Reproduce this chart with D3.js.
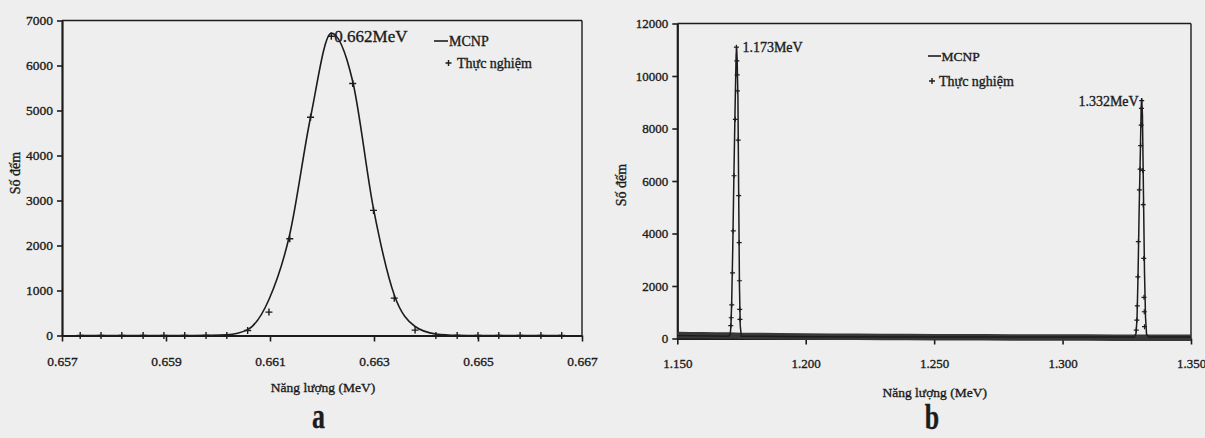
<!DOCTYPE html>
<html>
<head>
<meta charset="utf-8">
<script src="https://cdn.jsdelivr.net/npm/d3@7"></script>
<style>
  html, body { margin: 0; padding: 0; background: #eeeeee; }
  svg { display: block; }
  text { font-family: "Liberation Serif", "Times New Roman", serif; fill: #1c1c1c; stroke: #1c1c1c; stroke-width: 0.35px; }
</style>
</head>
<body>
<svg id="chart" width="1205" height="438"></svg>
<script>
// ---------- Chart a : 0.662 MeV peak ----------
const energyA = [0.65735, 0.65775, 0.65815, 0.65856, 0.65896, 0.65936, 0.65977, 0.66017,
                 0.66057, 0.66098, 0.66138, 0.66178, 0.66218, 0.66259, 0.66299, 0.66339,
                 0.66379, 0.66419, 0.66460, 0.66500, 0.66540, 0.66581, 0.66621, 0.66661];
const mcnpA = [0, 0, 0, 0, 0, 0, 5, 15, 130, 800, 2250, 4850, 6720, 5650, 2820, 900, 200, 35, 5, 0, 0, 0, 0, 0];
const expA  = [0, 0, 0, 0, 0, 0, 0, 0, 110, 520, 2150, 4850, 6650, 5600, 2780, 830, 120, 0, 0, 0, 0, 0, 0, 0];
const xTicksA = [0.657, 0.659, 0.661, 0.663, 0.665, 0.667];
const yTicksA = [0, 1000, 2000, 3000, 4000, 5000, 6000, 7000];
const peakLabelA = { energy: 0.66218, count: 6650, text: "0.662MeV" };

// ---------- Chart b : 1.173 / 1.332 MeV peaks ----------
const mcnpBEnergy = [1.1500, 1.1600, 1.1700, 1.1706, 1.1709, 1.1712, 1.1716, 1.1720, 1.1725, 1.1729, 1.1731,
                     1.1733, 1.1736, 1.1739, 1.1742, 1.1745, 1.1749, 1.2000, 1.2500, 1.3000, 1.3280,
                     1.3286, 1.3290, 1.3294, 1.3298, 1.3303, 1.3306, 1.3308, 1.3311, 1.3315, 1.3319,
                     1.3323, 1.3327, 1.3335, 1.3500];
const mcnpBCounts = [110, 100, 90, 150, 500, 1500, 3500, 6000, 8800, 10800, 11100,
                     10600, 9200, 5500, 2000, 500, 90, 70, 60, 55, 55,
                     200, 800, 2500, 4800, 7200, 8800, 9150, 8500, 5500, 2500,
                     800, 150, 55, 55];
const expBEnergy = [1.1708, 1.1710, 1.1712, 1.1715, 1.1718, 1.1721, 1.1726, 1.1730,
                    1.1732, 1.1733, 1.1734, 1.1737, 1.1739, 1.1741, 1.1742, 1.1743, 1.1744,
                    1.3287, 1.3289, 1.3291, 1.3293, 1.3295, 1.3299, 1.3302, 1.3304, 1.3306, 1.3307, 1.3308,
                    1.3312, 1.3314, 1.3316, 1.3317, 1.3318, 1.3319];
const expBCounts = [490, 790, 1280, 2500, 4100, 6200, 8350, 11100,
                    10580, 10040, 9430, 7560, 5440, 3650, 2200, 1110, 730,
                    320, 700, 1240, 2350, 3690, 5660, 6450, 7350, 8130, 8770, 9060,
                    6400, 5100, 3050, 1570, 1020, 450];
// dense background of experimental points (seen as a dark band along the baseline)
const bgBEnergy = [1.150, 1.155, 1.160, 1.165, 1.170, 1.175, 1.180, 1.190, 1.200, 1.210, 1.220,
                   1.230, 1.240, 1.250, 1.260, 1.270, 1.280, 1.290, 1.300, 1.310, 1.320, 1.328,
                   1.334, 1.340, 1.345, 1.350];
const bgBCounts = [130, 120, 125, 115, 110, 100, 95, 90, 80, 70, 65,
                   60, 55, 50, 45, 45, 40, 40, 35, 35, 30, 30,
                   30, 30, 30, 30];
const xTicksB = [1.150, 1.200, 1.250, 1.300, 1.350];
const yTicksB = [0, 2000, 4000, 6000, 8000, 10000, 12000];
const peakLabelsB = [
  { energy: 1.1730, count: 11100, text: "1.173MeV", side: "right" },
  { energy: 1.3308, count: 9060, text: "1.332MeV", side: "left" }
];

const svg = d3.select("#chart");
const ink = "#1c1c1c";

function drawFrame(g, x, y, xTicks, yTicks, xFmt, opts) {
  const [x0, x1] = x.range();
  const [yb, yt] = y.range();
  g.append("line").attr("x1", x0).attr("x2", x1).attr("y1", yt).attr("y2", yt)
    .attr("stroke", ink).attr("stroke-width", 1.4);
  g.append("line").attr("x1", x1).attr("x2", x1).attr("y1", yt).attr("y2", yb)
    .attr("stroke", ink).attr("stroke-width", 1.4);

  const ya = d3.axisLeft(y).tickValues(yTicks).tickSize(5).tickPadding(4).tickSizeOuter(0)
    .tickFormat(d3.format("d"));
  const gy = g.append("g").attr("transform", `translate(${x0},0)`).call(ya);
  gy.select(".domain").attr("stroke", ink).attr("stroke-width", 2.2);
  gy.selectAll(".tick line").attr("stroke", ink).attr("stroke-width", 1.6);
  gy.selectAll(".tick text").attr("font-size", opts.tickFont).attr("fill", ink)
    .style("font-family", '"Liberation Serif", serif');

  const xa = d3.axisBottom(x).tickValues(xTicks).tickSize(6).tickPadding(opts.xPad).tickSizeOuter(0)
    .tickFormat(xFmt);
  const gx = g.append("g").attr("transform", `translate(0,${yb})`).call(xa);
  gx.select(".domain").attr("stroke", ink).attr("stroke-width", 2.2);
  gx.selectAll(".tick line").attr("stroke", ink).attr("stroke-width", 1.6);
  gx.selectAll(".tick text").attr("font-size", opts.tickFont).attr("fill", ink)
    .style("font-family", '"Liberation Serif", serif');
}

function plus(g, px, py, s, w) {
  g.append("path").attr("d", `M${px - s},${py}H${px + s}M${px},${py - s}V${py + s}`)
    .attr("stroke", ink).attr("stroke-width", w).attr("fill", "none");
}

// ---------------- Chart a ----------------
{
  const g = svg.append("g");
  const x = d3.scaleLinear().domain([0.657, 0.667]).range([62, 582]);
  const y = d3.scaleLinear().domain([0, 7000]).range([335.5, 20.5]);
  drawFrame(g, x, y, xTicksA, yTicksA, d3.format(".3f"), { tickFont: "13.5px", xPad: 15 });

  const line = d3.line().x(d => x(d[0])).y(d => y(d[1])).curve(d3.curveMonotoneX);
  g.append("path").datum(energyA.map((e, i) => [e, mcnpA[i]]))
    .attr("d", line).attr("fill", "none").attr("stroke", ink).attr("stroke-width", 1.6);

  energyA.forEach((e, i) => plus(g, x(e), y(expA[i]), 3.5, 1.4));

  g.append("text").attr("x", x(peakLabelA.energy) + 3).attr("y", y(peakLabelA.count) + 6)
    .attr("font-size", "17px").text(peakLabelA.text);

  g.append("line").attr("x1", 434).attr("x2", 448).attr("y1", 41).attr("y2", 41)
    .attr("stroke", ink).attr("stroke-width", 1.6);
  g.append("text").attr("x", 449).attr("y", 46).attr("font-size", "14px").text("MCNP");
  plus(g, 448.5, 63, 3, 1.4);
  g.append("text").attr("x", 457).attr("y", 68).attr("font-size", "14px").text("Thực nghiệm");

  g.append("text").attr("transform", "translate(20,173) rotate(-90)").attr("text-anchor", "middle")
    .attr("font-size", "14px").text("Số đếm");
  g.append("text").attr("x", 323).attr("y", 392).attr("text-anchor", "middle")
    .attr("font-size", "13.5px").text("Năng lượng (MeV)");
  g.append("text").attr("transform", "translate(318.5,428) scale(0.72,1)").attr("text-anchor", "middle")
    .attr("font-size", "36px").attr("font-weight", "bold").text("a");
}

// ---------------- Chart b ----------------
{
  const g = svg.append("g");
  const x = d3.scaleLinear().domain([1.150, 1.350]).range([677.3, 1191]);
  const y = d3.scaleLinear().domain([0, 12000]).range([338.5, 23.5]);
  drawFrame(g, x, y, xTicksB, yTicksB, d3.format(".3f"), { tickFont: "13px", xPad: 14 });

  const line = d3.line().x(d => x(d[0])).y(d => y(d[1]));
  g.append("path").datum(bgBEnergy.map((e, i) => [e, bgBCounts[i]]))
    .attr("d", line).attr("fill", "none").attr("stroke", "#383838").attr("stroke-width", 6.5);
  g.append("path").datum(mcnpBEnergy.map((e, i) => [e, mcnpBCounts[i]]))
    .attr("d", line).attr("fill", "none").attr("stroke", ink).attr("stroke-width", 1.5);

  expBEnergy.forEach((e, i) => plus(g, x(e), y(expBCounts[i]), 2.5, 1.2));

  peakLabelsB.forEach(p => {
    const t = g.append("text").attr("y", y(p.count) + 5).attr("font-size", "14px").text(p.text);
    if (p.side === "right") t.attr("x", x(p.energy) + 6);
    else t.attr("x", x(p.energy) - 3).attr("text-anchor", "end");
  });

  g.append("line").attr("x1", 928).attr("x2", 941).attr("y1", 56).attr("y2", 56)
    .attr("stroke", ink).attr("stroke-width", 1.6);
  g.append("text").attr("x", 941.5).attr("y", 61).attr("font-size", "13.5px").text("MCNP");
  plus(g, 932, 81, 3, 1.4);
  g.append("text").attr("x", 939).attr("y", 86).attr("font-size", "14px").text("Thực nghiệm");

  g.append("text").attr("transform", "translate(626,185) rotate(-90)").attr("text-anchor", "middle")
    .attr("font-size", "14px").text("Số đếm");
  g.append("text").attr("x", 934.7).attr("y", 397).attr("text-anchor", "middle")
    .attr("font-size", "13.5px").text("Năng lượng (MeV)");
  g.append("text").attr("transform", "translate(932,429) scale(0.72,1)").attr("text-anchor", "middle")
    .attr("font-size", "36px").attr("font-weight", "bold").text("b");
}
</script>
</body>
</html>
